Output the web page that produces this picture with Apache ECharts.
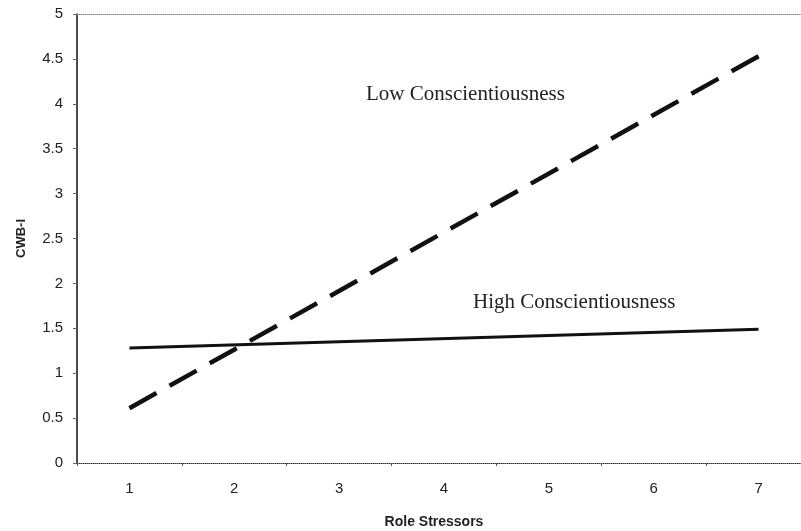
<!DOCTYPE html>
<html>
<head>
<meta charset="utf-8">
<script src="https://cdn.jsdelivr.net/npm/echarts@6/dist/echarts.min.js"></script>
<style>html,body{margin:0;padding:0;background:#fff;}#c{width:801px;height:531px;}</style>
</head>
<body>
<div id="c"></div>
<script>
var categories = ['1', '2', '3', '4', '5', '6', '7'];
var lowX = ['1', '7'];
var lowY = [0.61, 4.53];
var highX = ['1', '7'];
var highY = [1.28, 1.49];
var yTicks = [0, 0.5, 1, 1.5, 2, 2.5, 3, 3.5, 4, 4.5, 5];

var chart = echarts.init(document.getElementById('c'), null, {renderer: 'canvas'});
function pairs(xs, ys) { return xs.map(function (x, i) { return [x, ys[i]]; }); }

chart.setOption({
  animation: false,
  backgroundColor: '#fff',
  grid: {left: 77, top: 14, width: 734, height: 449, outerBoundsMode: 'none', containLabel: false},
  xAxis: [{
    type: 'category', data: categories, boundaryGap: true,
    name: 'Role Stressors', nameLocation: 'middle', nameGap: 52,
    nameTextStyle: {fontFamily: 'Liberation Sans', fontWeight: 'bold', fontSize: 14, color: '#222', padding: [0, 20, 0, 0]},
    axisLine: {lineStyle: {color: '#333', width: 1, type: 'dotted'}},
    axisTick: {show: true, length: 3, lineStyle: {color: '#555'}},
    axisLabel: {fontFamily: 'Liberation Sans', fontSize: 15, color: '#222', margin: 18},
    splitLine: {show: false}
  }, {
    type: 'category', data: categories, position: 'top',
    axisLine: {lineStyle: {color: '#888', width: 1, type: 'dotted'}},
    axisTick: {show: false}, axisLabel: {show: false}
  }],
  yAxis: {
    type: 'value', min: 0, max: 5, interval: 0.5,
    name: 'CWB-I', nameLocation: 'middle', nameGap: 49, nameRotate: 90,
    nameTextStyle: {fontFamily: 'Liberation Sans', fontWeight: 'bold', fontSize: 13, color: '#222'},
    axisLine: {show: true, lineStyle: {color: '#111', width: 1.5}},
    axisTick: {show: true, length: 4, lineStyle: {color: '#666'}},
    axisLabel: {fontFamily: 'Liberation Sans', fontSize: 15, color: '#222', margin: 14,
      formatter: function (v) { return String(v); }},
    splitLine: {show: false}
  },
  series: [{
    name: 'High Conscientiousness', type: 'line', symbol: 'none',
    data: pairs(highX, highY),
    lineStyle: {color: '#111', width: 3}
  }, {
    name: 'Low Conscientiousness', type: 'line', symbol: 'none',
    data: pairs(lowX, lowY),
    lineStyle: {color: '#111', width: 4.5, type: [31, 15], cap: 'butt'}
  }],
  graphic: [{
    type: 'text', left: 366, top: 84,
    style: {text: 'Low Conscientiousness', font: '21px "Liberation Serif"', fill: '#222'}
  }, {
    type: 'text', left: 473, top: 292,
    style: {text: 'High Conscientiousness', font: '21px "Liberation Serif"', fill: '#222'}
  }]
});
</script>
</body>
</html>
